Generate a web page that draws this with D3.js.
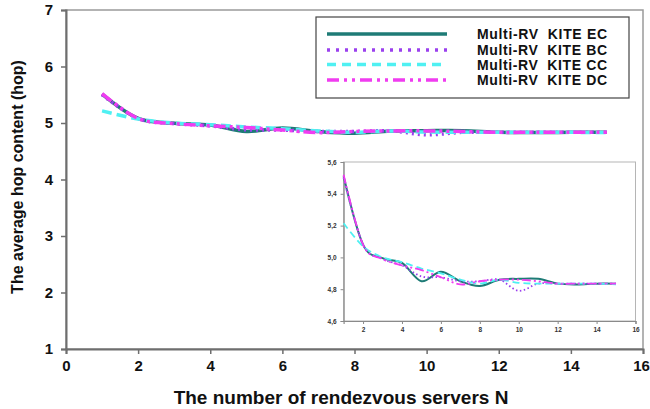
<!DOCTYPE html>
<html><head><meta charset="utf-8">
<script src="https://cdn.jsdelivr.net/npm/d3@7"></script>
<style>
html,body{margin:0;padding:0;background:#fff;}
svg{display:block;font-family:Arial,"Liberation Sans",sans-serif;}
</style></head>
<body>
<svg id="chart" width="650" height="409"></svg>
<script>
const N = [1,2,3,4,5,6,7,8,9,10,11,12,13,14,15];
const seriesNames = ["Multi-RV  KITE EC","Multi-RV  KITE BC","Multi-RV  KITE CC","Multi-RV  KITE DC"];
const EC = [5.51,5.08,4.995,4.965,4.85,4.91,4.85,4.82,4.86,4.865,4.865,4.835,4.83,4.835,4.835];
const BC = [5.50,5.08,4.99,4.95,4.88,4.875,4.85,4.85,4.86,4.79,4.835,4.835,4.835,4.835,4.835];
const CC = [5.215,5.07,5.00,4.97,4.93,4.90,4.86,4.835,4.86,4.84,4.835,4.835,4.835,4.835,4.83];
const DC = [5.52,5.08,4.99,4.95,4.92,4.875,4.83,4.85,4.86,4.86,4.85,4.835,4.835,4.835,4.835];
const mainXTicks = [0,2,4,6,8,10,12,14,16];
const mainYTicks = [1,2,3,4,5,6,7];
const insetXTicks = [2,4,6,8,10,12,14,16];
const insetYTicks = [4.6,4.8,5.0,5.2,5.4,5.6];
const xTitle = "The number of rendezvous servers N";
const yTitle = "The average hop content (hop)";

const colors = ["#1e7b76","#9b40ee","#4ff0f2","#f03cf0"];
const mainDash = [null,"2,4","10,5","12,4,3,4,3,4"];
const insetDash = [null,"1.5,2.5","7,4","9,3,2,3,2,3"];
const allSeries = [EC,BC,CC,DC];

const svg = d3.select("#chart");

// ---- main chart ----
const x = d3.scaleLinear().domain([0,16]).range([66,643]);
const y = d3.scaleLinear().domain([1,7]).range([349,10]);

svg.append("rect").attr("x",66).attr("y",10).attr("width",643-66).attr("height",339)
  .attr("fill","none").attr("stroke","#9a9a9a").attr("stroke-width",1.5);

const xAxis = svg.append("g").attr("transform","translate(0,349)")
  .call(d3.axisBottom(x).tickValues(mainXTicks).tickSize(5).tickPadding(6).tickFormat(d3.format("d")));
const yAxis = svg.append("g").attr("transform","translate(66,0)")
  .call(d3.axisLeft(y).tickValues(mainYTicks).tickSize(5).tickPadding(8).tickFormat(d3.format("d")));
[xAxis,yAxis].forEach(g=>{
  g.select(".domain").attr("stroke","#6e6e6e").attr("stroke-width",2);
  g.selectAll(".tick line").attr("stroke","#6e6e6e").attr("stroke-width",1.5);
  g.selectAll(".tick text").attr("font-size",15).attr("font-weight","bold")
    .attr("fill","#111").attr("font-family","Arial, 'Liberation Sans', sans-serif");
});
xAxis.selectAll(".tick text").filter(d=>d===16).attr("dx",-2);

svg.append("text").attr("x",341).attr("y",404).attr("text-anchor","middle")
  .attr("font-size",19).attr("font-weight","bold").attr("fill","#111").text(xTitle);
svg.append("text").attr("transform","translate(23,177) rotate(-90)").attr("text-anchor","middle")
  .attr("font-size",16).attr("font-weight","bold").attr("fill","#111").text(yTitle);

const lineMain = d3.line().x((d,i)=>x(N[i])).y(d=>y(d)).curve(d3.curveCatmullRom.alpha(0));
allSeries.forEach((s,k)=>{
  svg.append("path").datum(s).attr("d",lineMain).attr("fill","none")
    .attr("stroke",colors[k]).attr("stroke-width",3.5)
    .attr("stroke-dasharray",mainDash[k]);
});

// ---- legend ----
const lg = svg.append("g");
lg.append("rect").attr("x",316).attr("y",17).attr("width",313).attr("height",81)
  .attr("fill","#fff").attr("stroke","#444").attr("stroke-width",1.2);
const legY = [34,50,64.5,80];
seriesNames.forEach((nm,k)=>{
  lg.append("line").attr("x1",327).attr("x2",447).attr("y1",legY[k]).attr("y2",legY[k])
    .attr("stroke",colors[k]).attr("stroke-width",3.5)
    .attr("stroke-dasharray",k===0?null:(k===1?"3,6":(k===2?"9,6":"12,5,3,5,3,5")));
  lg.append("text").attr("x",477).attr("y",legY[k]+5).attr("font-size",14)
    .attr("font-weight","bold").attr("fill","#111").style("white-space","pre")
    .attr("textLength",130).attr("lengthAdjust","spacing").text(nm);
});

// ---- inset ----
const ix = d3.scaleLinear().domain([1,16]).range([343.6,635.5]);
const iy = d3.scaleLinear().domain([4.6,5.6]).range([321,162]);
svg.append("rect").attr("x",343.6).attr("y",162).attr("width",635.5-343.6).attr("height",159)
  .attr("fill","#fff").attr("stroke","#b5b5b5").attr("stroke-width",1);
const ixAxis = svg.append("g").attr("transform","translate(0,321)")
  .call(d3.axisBottom(ix).tickValues(insetXTicks).tickSize(3).tickPadding(3));
const iyAxis = svg.append("g").attr("transform","translate(343.6,0)")
  .call(d3.axisLeft(iy).tickValues(insetYTicks).tickSize(3).tickPadding(4)
    .tickFormat(d=>d3.format(".1f")(d).replace(".",",")));
[ixAxis,iyAxis].forEach(g=>{
  g.select(".domain").attr("stroke","#8a8a8a").attr("stroke-width",1.2);
  g.selectAll(".tick line").attr("stroke","#8a8a8a");
  g.selectAll(".tick text").attr("font-size",6.5).attr("font-weight","bold")
    .attr("fill","#333").attr("font-family","Arial, 'Liberation Sans', sans-serif");
});
const lineInset = d3.line().x((d,i)=>ix(N[i])).y(d=>iy(d)).curve(d3.curveCatmullRom.alpha(0));
allSeries.forEach((s,k)=>{
  svg.append("path").datum(s).attr("d",lineInset).attr("fill","none")
    .attr("stroke",colors[k]).attr("stroke-width",k===0?2:1.8)
    .attr("stroke-dasharray",insetDash[k]);
});
</script>
</body></html>
